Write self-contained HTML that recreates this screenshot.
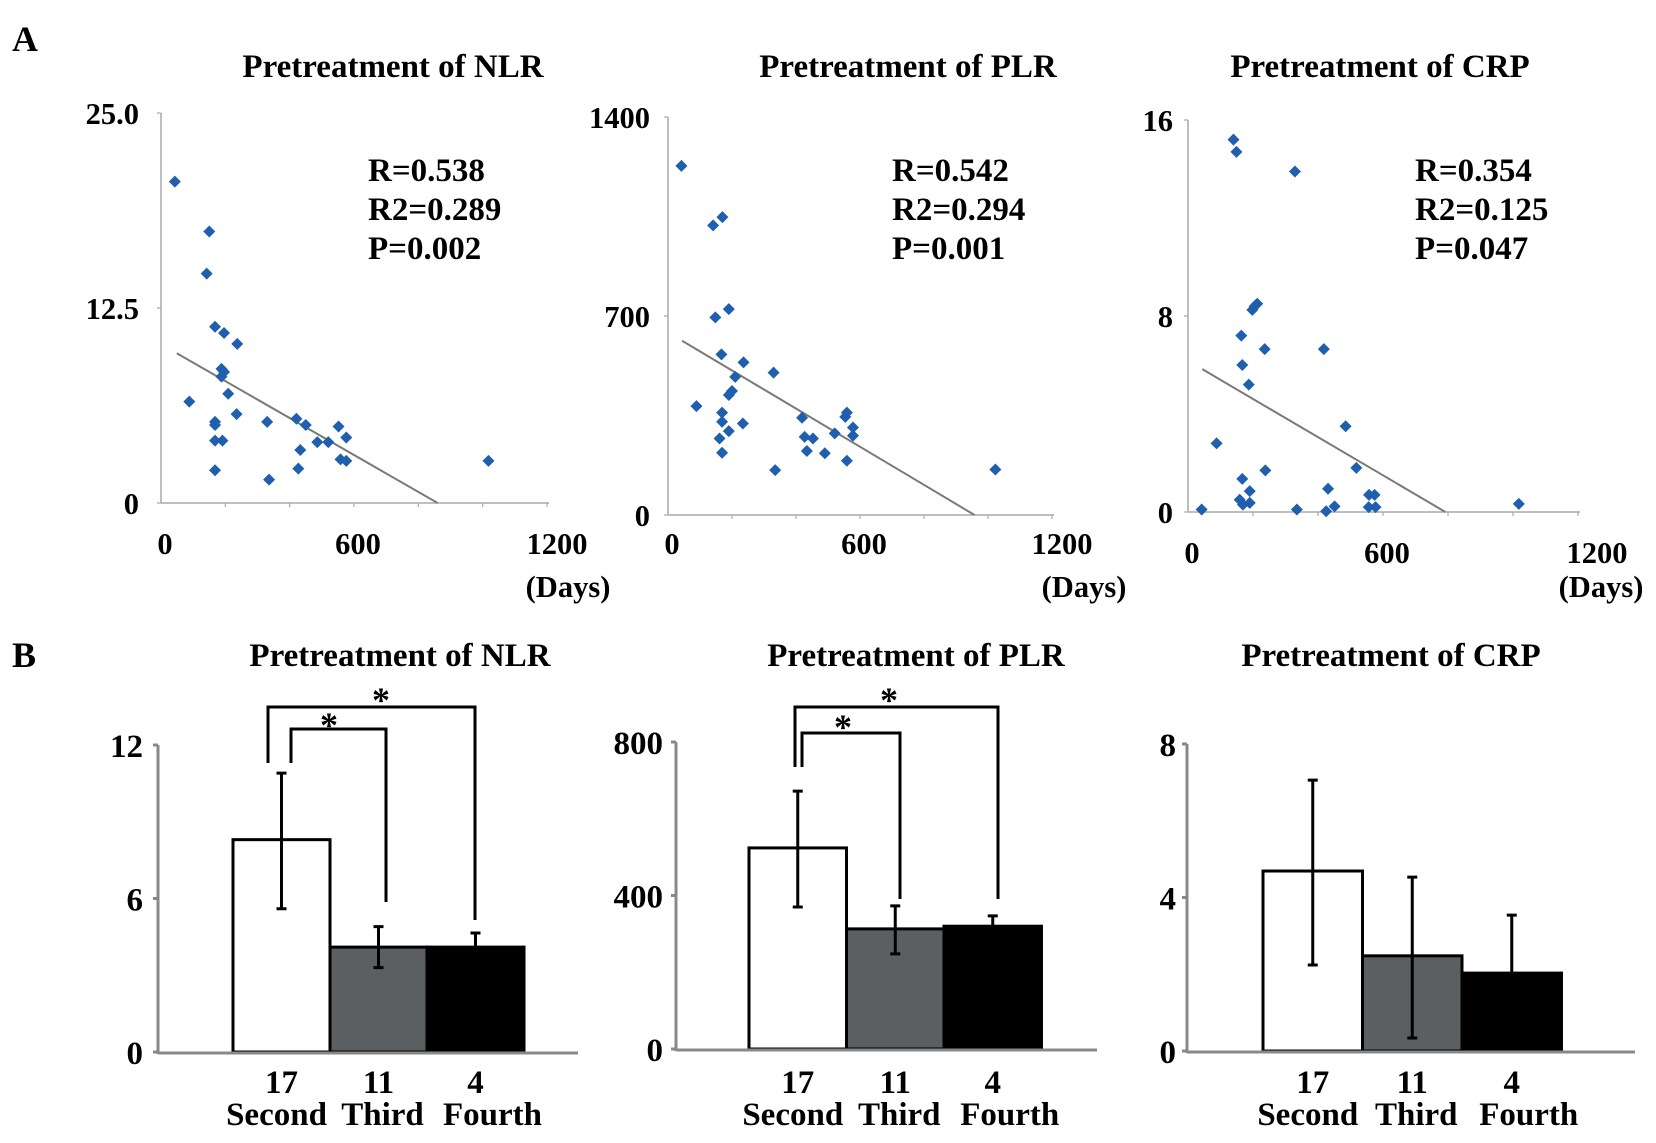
<!DOCTYPE html>
<html><head><meta charset="utf-8"><style>
html,body{margin:0;padding:0;background:#fff;}
svg{display:block;font-family:"Liberation Serif",serif;font-weight:bold;}
</style></head><body>
<svg id="fig" width="1656" height="1143" viewBox="0 0 1656 1143" xmlns="http://www.w3.org/2000/svg">
<text x="12" y="51" font-size="36">A</text>
<text x="12" y="667" font-size="36">B</text>
</svg>
<script>
// ---------- Scatter data ----------
const nlrDays=[43,150,142,168,196,237,188,196,188,209,88,235,168,168,330,421,450,552,576,168,191,486,520,433,558,576,1018,168,427,336];
const nlrVals=[20.6,17.4,14.7,11.3,10.9,10.2,8.6,8.4,8.1,7.0,6.5,5.7,5.2,5.0,5.2,5.4,5.0,4.9,4.2,4.0,4.0,3.9,3.9,3.4,2.8,2.7,2.7,2.1,2.2,1.5];
const nlrTrendX=[49,860];
const nlrTrendY=[9.6,0];
const nlrYTicks=["0","12.5","25.0"];
const nlrYTickVals=[0,12.5,25];

const plrDays=[42,141,170,190,148,167,236,330,210,200,190,89,169,169,234,190,161,169,335,419,427,453,434,490,521,559,554,578,578,559,1023];
const plrVals=[1228,1019,1048,724,695,565,537,501,486,436,422,383,360,328,322,295,269,219,158,342,275,269,225,217,287,360,345,308,279,191,160];
const plrTrendX=[44,958];
const plrTrendY=[613,0];
const plrYTicks=["0","700","1400"];
const plrYTickVals=[0,700,1400];

const crpDays=[140,149,329,198,205,213,164,236,418,167,187,485,88,238,518,167,190,159,169,190,42,335,431,425,451,557,574,556,577,1018];
const crpVals=[15.2,14.7,13.9,8.25,8.4,8.5,7.2,6.65,6.65,6.0,5.2,3.5,2.8,1.7,1.8,1.35,0.85,0.5,0.3,0.37,0.1,0.1,0.95,0.03,0.23,0.7,0.7,0.2,0.2,0.33];
const crpTrendX=[44,792];
const crpTrendY=[5.83,0];
const crpYTicks=["0","8","16"];
const crpYTickVals=[0,8,16];

const xTickLabels=["0","600","1200"];
const xTickVals=[0,600,1200];

// ---------- Bar data ----------
const groupCounts=["17","11","4"];
const groupNames=["Second","Third","Fourth"];
const nlrMeans=[8.3,4.1,4.1];
const nlrErrHi=[10.9,4.9,4.65];
const nlrErrLo=[5.6,3.3,3.55];
const nlrBarTicks=[0,6,12];
const plrMeans=[524,313,320];
const plrErrHi=[672,373,347];
const plrErrLo=[370,248,293];
const plrBarTicks=[0,400,800];
const crpMeans=[4.69,2.48,2.03];
const crpErrHi=[7.06,4.53,3.54];
const crpErrLo=[2.24,0.34,0.52];
const crpBarTicks=[0,4,8];

const svg=document.getElementById('fig');
const NS="http://www.w3.org/2000/svg";
function mk(tag,attrs,parent){const e=document.createElementNS(NS,tag);for(const k in attrs)e.setAttribute(k,attrs[k]);(parent||svg).appendChild(e);return e;}
function txt(s,x,y,size,anchor,parent){const t=mk('text',{x:x,y:y,'font-size':size,'text-anchor':anchor||'start'},parent);t.textContent=s;return t;}

function scatter(key,g,days,vals,tx,ty,yTicks,yTickVals,title,stats){
  const grp=mk('g',{});
  
  
  const X=d=>g.x0+(d/1200)*(g.x1-g.x0);
  const Y=v=>g.y0-(v/g.ymax)*(g.y0-g.yt);
  const t=txt(title,g.tx,g.ty,33,'middle',grp);
  
  
  const ya=mk('line',{x1:g.x0,y1:g.y0,x2:g.x0,y2:g.yt,stroke:'#aaa','stroke-width':1.5},grp);
  
  
  const xa=mk('line',{x1:g.x0,y1:g.y0,x2:X(1200)+2,y2:g.y0,stroke:'#aaa','stroke-width':1.5},grp);
  
  
  for(let d=200;d<=1200;d+=200){mk('line',{x1:X(d),y1:g.y0,x2:X(d),y2:g.y0+4,stroke:'#aaa','stroke-width':1.2},grp);}
  yTickVals.forEach((v,i)=>{
    mk('line',{x1:g.x0-4,y1:Y(v),x2:g.x0,y2:Y(v),stroke:'#aaa','stroke-width':1.2},grp);
    const l=txt(yTicks[i],g.ylx,Y(v)+11,30.5,'end',grp);
    
    
  });
  xTickVals.forEach((v,i)=>{
    const l=txt(xTickLabels[i],X(v)+(i==2?g.lastOff:4),g.xly,30.5,'middle',grp);
    
    
  });
  const dl=txt('(Days)',g.daysX,g.daysY,30.5,'middle',grp);
  
  
  const tl=mk('line',{x1:X(tx[0]),y1:Y(ty[0]),x2:X(tx[1]),y2:Y(ty[1]),stroke:'#7a7a7a','stroke-width':2},grp);
  
  
  days.forEach((d,i)=>{
    const cx=X(d),cy=Y(vals[i]),r=6;
    const p=mk('polygon',{points:`${cx},${cy-r} ${cx+r},${cy} ${cx},${cy+r} ${cx-r},${cy}`,fill:'#1f5fae'},grp);
    
    
  });
  stats.forEach((s,i)=>{
    const l=txt(s,g.sx,g.sy+i*39,33,'start',grp);
    
    
  });
}
scatter('nlr',{x0:161,x1:547,y0:503,yt:113,ymax:25,tx:393,ty:77,ylx:139,xly:554,lastOff:10,daysX:568,daysY:597,sx:368,sy:181},nlrDays,nlrVals,nlrTrendX,nlrTrendY,nlrYTicks,nlrYTickVals,'Pretreatment of NLR',['R=0.538','R2=0.289','P=0.002']);
scatter('plr',{x0:668,x1:1052,y0:515,yt:117,ymax:1400,tx:908,ty:77,ylx:650,xly:554,lastOff:10,daysX:1084,daysY:597,sx:892,sy:181},plrDays,plrVals,plrTrendX,plrTrendY,plrYTicks,plrYTickVals,'Pretreatment of PLR',['R=0.542','R2=0.294','P=0.001']);
scatter('crp',{x0:1188,x1:1578,y0:512,yt:120,ymax:16,tx:1380,ty:77,ylx:1173,xly:563,lastOff:19,daysX:1601,daysY:597,sx:1415,sy:181},crpDays,crpVals,crpTrendX,crpTrendY,crpYTicks,crpYTickVals,'Pretreatment of CRP',['R=0.354','R2=0.125','P=0.047']);

function bars(key,g,means,hi,lo,ticks,title,brackets){
  const grp=mk('g',{});
  
  
  const ymax=ticks[ticks.length-1];
  const Y=v=>g.y0-(v/ymax)*(g.y0-g.yt);
  const cx=i=>g.bx+g.bw*(i+0.5);
  const t=txt(title,g.tx,666,33,'middle',grp);
  
  
  const fills=['#ffffff','#5b5f61','#000000'];
  means.forEach((m,i)=>{
    const r=mk('rect',{x:g.bx+g.bw*i,y:Y(m),width:g.bw,height:g.y0-Y(m),fill:fills[i],stroke:'#000','stroke-width':3},grp);
    
    
  });
  means.forEach((m,i)=>{
    const e=mk('path',{d:`M${cx(i)},${Y(lo[i])}V${Y(hi[i])}M${cx(i)-5},${Y(hi[i])}h10M${cx(i)-5},${Y(lo[i])}h10`,stroke:'#000','stroke-width':3,fill:'none'},grp);
    
    
  });
  const ya=mk('line',{x1:g.ax,y1:g.y0+2,x2:g.ax,y2:g.yt,stroke:'#888','stroke-width':3},grp);
  
  
  const xa=mk('line',{x1:g.ax,y1:g.y0+1,x2:g.xe,y2:g.y0+1,stroke:'#888','stroke-width':3},grp);
  
  
  ticks.forEach(v=>{
    mk('line',{x1:g.ax-5,y1:Y(v),x2:g.ax,y2:Y(v),stroke:'#888','stroke-width':3},grp);
    const l=txt(String(v),g.ylx,Y(v)+12,33,'end',grp);
    
    
  });
  const nameOff=[-5,4,17];
  groupCounts.forEach((c,i)=>{
    const l=txt(c,cx(i),1093,33,'middle',grp);
    
    
    const n=txt(groupNames[i],cx(i)+nameOff[i],1125,33,'middle',grp);
    
    
  });
  brackets.forEach(b=>{
    const p=mk('path',{d:`M${b.x1},${b.l1}V${b.y}H${b.x2}V${b.l2}`,stroke:'#000','stroke-width':3,fill:'none'},grp);
    
    
    const s=txt('*',b.sx,b.sy,36,'middle',grp);
    
    
  });
}
bars('nlr',{ax:158,y0:1052,yt:745,bx:233,bw:97,xe:578,ylx:143,tx:400},nlrMeans,nlrErrHi,nlrErrLo,nlrBarTicks,'Pretreatment of NLR',
  [{x1:268,x2:475,y:707,l1:763,l2:920,sx:381,sy:712},{x1:291,x2:386,y:729,l1:763,l2:902,sx:329,sy:737}]);
bars('plr',{ax:676,y0:1049,yt:742,bx:749,bw:97.5,xe:1097,ylx:663,tx:916},plrMeans,plrErrHi,plrErrLo,plrBarTicks,'Pretreatment of PLR',
  [{x1:795,x2:998,y:707,l1:767,l2:899,sx:889,sy:712},{x1:802,x2:900,y:733,l1:767,l2:899,sx:843,sy:739}]);
bars('crp',{ax:1187,y0:1051,yt:744,bx:1263,bw:99.5,xe:1635,ylx:1176,tx:1391},crpMeans,crpErrHi,crpErrLo,crpBarTicks,'Pretreatment of CRP',[]);
</script>
</body></html>
